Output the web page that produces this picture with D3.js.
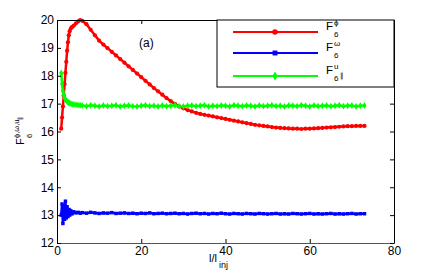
<!DOCTYPE html>
<html>
<head>
<meta charset="utf-8">
<script src="https://cdn.jsdelivr.net/npm/d3@7"></script>
<style>
  body { margin: 0; background: #fff; }
  svg { display: block; font-family: "Liberation Sans", Arial, sans-serif; }
</style>
</head>
<body>
<div id="chart"></div>
<script>
const WIDTH = 436;
const HEIGHT = 273;
const MARGIN = {left: 57, right: 42, top: 20, bottom: 30};

// l / l_inj sample positions
const lValues = [
  1, 1.2, 1.4, 1.6, 1.8, 2, 2.2, 2.4, 2.6, 2.8, 3, 3.3, 3.6, 4, 4.5, 5, 5.5,
  6, 7, 8, 9, 10, 11, 12, 13, 14, 15,
  16, 17, 18, 19, 20, 21, 22, 23, 24, 25,
  26, 27, 28, 29, 30, 31, 32, 33, 34, 35,
  36, 37, 38, 39, 40, 41, 42, 43, 44, 45,
  46, 47, 48, 49, 50, 51, 52, 53, 54, 55,
  56, 57, 58, 59, 60, 61, 62, 63, 64, 65,
  66, 67, 68, 69, 70, 71, 72, 73
];

const fPhi = [
  16.1, 16.5, 16.9, 17.3, 17.7, 18.1, 18.5, 18.9, 19.2, 19.45, 19.6, 19.7, 19.75, 19.8, 19.88, 19.95, 20.0,
  19.97, 19.85, 19.65, 19.45, 19.26, 19.12, 18.99, 18.86, 18.73, 18.6,
  18.47, 18.34, 18.21, 18.08, 17.95, 17.82, 17.69, 17.56, 17.44, 17.32,
  17.2, 17.09, 16.99, 16.9, 16.83, 16.77, 16.72, 16.67, 16.63, 16.6,
  16.57, 16.54, 16.51, 16.48, 16.45, 16.42, 16.39, 16.36, 16.33, 16.3,
  16.27, 16.24, 16.22, 16.2, 16.18, 16.16, 16.14, 16.13, 16.12, 16.11,
  16.1, 16.1, 16.09, 16.1, 16.1, 16.11, 16.12, 16.13, 16.14, 16.15,
  16.16, 16.17, 16.18, 16.19, 16.19, 16.2, 16.2, 16.2
];

const fOmega = [
  13.0, 13.4, 12.7, 13.35, 12.85, 13.5, 12.9, 13.3, 12.95, 13.2, 13.0, 13.15, 13.05, 13.12, 13.08, 13.1, 13.07,
  13.09, 13.07, 13.1, 13.08, 13.06, 13.08, 13.07, 13.09, 13.06, 13.07,
  13.08, 13.06, 13.07, 13.05, 13.07, 13.06, 13.08, 13.05, 13.06, 13.07,
  13.05, 13.06, 13.07, 13.05, 13.06, 13.04, 13.06, 13.07, 13.05, 13.06,
  13.04, 13.06, 13.05, 13.07, 13.05, 13.04, 13.06, 13.05, 13.04, 13.06,
  13.05, 13.04, 13.06, 13.05, 13.04, 13.05, 13.06, 13.04, 13.05, 13.04,
  13.06, 13.05, 13.04, 13.05, 13.06, 13.04, 13.05, 13.04, 13.05, 13.06,
  13.04, 13.05, 13.04, 13.05, 13.06, 13.04, 13.05, 13.05
];

const fUpar = [
  18.1, 17.7, 17.45, 17.3, 17.22, 17.15, 17.1, 17.08, 17.05, 17.03, 17.02, 17.0, 16.98, 16.97, 16.96, 16.95, 16.94,
  16.93, 16.91, 16.94, 16.92, 16.9, 16.93, 16.91, 16.92, 16.94, 16.9,
  16.92, 16.93, 16.91, 16.9, 16.92, 16.94, 16.91, 16.92, 16.9, 16.93,
  16.91, 16.92, 16.94, 16.91, 16.9, 16.92, 16.93, 16.91, 16.92, 16.94,
  16.9, 16.92, 16.91, 16.93, 16.92, 16.9, 16.94, 16.92, 16.91, 16.93,
  16.92, 16.9, 16.93, 16.91, 16.92, 16.94, 16.91, 16.92, 16.9, 16.93,
  16.92, 16.91, 16.94, 16.92, 16.9, 16.93, 16.91, 16.92, 16.93, 16.91,
  16.92, 16.94, 16.91, 16.92, 16.93, 16.9, 16.92, 16.93
];

const xTicks = [0, 20, 40, 60, 80];
const yTicks = [12, 13, 14, 15, 16, 17, 18, 19, 20];

const SERIES = [
  {name: 'phi', sup: 'ϕ', values: fPhi, color: '#ff0000', marker: d3.symbolCircle, size: 14},
  {name: 'omega', sup: 'ω', values: fOmega, color: '#0000ff', marker: d3.symbolSquare, size: 12},
  {name: 'upar', sup: 'u', values: fUpar, color: '#00ff00', marker: d3.symbolDiamond, size: 14},
];

const svg = d3.select('#chart').append('svg')
  .attr('width', WIDTH)
  .attr('height', HEIGHT);

const x0 = MARGIN.left, x1 = WIDTH - MARGIN.right;
const y0 = MARGIN.top, y1 = HEIGHT - MARGIN.bottom;

const x = d3.scaleLinear().domain([0, 80]).range([x0, x1]);
const y = d3.scaleLinear().domain([12, 20]).range([y1, y0]);

const plot = svg.append('g');
plot.append('clipPath').attr('id', 'clip')
  .append('rect').attr('x', x0).attr('y', y0 - 3).attr('width', x1 - x0).attr('height', y1 - y0 + 6);

const line = d3.line()
  .x((d, i) => x(lValues[i]))
  .y(d => y(d));

const marks = plot.append('g').attr('clip-path', 'url(#clip)');
SERIES.forEach(s => {
  marks.append('path')
    .attr('d', line(s.values))
    .attr('fill', 'none')
    .attr('stroke', s.color)
    .attr('stroke-width', 2.5);
  marks.append('g').selectAll('path')
    .data(s.values)
    .enter()
    .append('path')
    .attr('d', d3.symbol().type(s.marker).size(s.size))
    .attr('transform', (d, i) => `translate(${x(lValues[i])},${y(d)})`)
    .attr('fill', s.color);
});

// axes, MATLAB-style box with inward ticks
function styleAxis(g) {
  g.selectAll('.domain').attr('stroke', '#000');
  g.selectAll('.tick line').attr('stroke', '#000');
  g.selectAll('.tick text').attr('fill', '#000').style('font-size', '12px')
    .style('font-family', '"Liberation Sans", Arial, sans-serif');
}

svg.append('g')
  .attr('transform', `translate(0,${y1})`)
  .call(d3.axisBottom(x).tickValues(xTicks).tickSize(-4).tickSizeOuter(0).tickPadding(3))
  .call(styleAxis)
  .call(g => g.selectAll('.domain').attr('stroke', '#555'));

svg.append('g')
  .attr('transform', `translate(0,${y0})`)
  .call(d3.axisTop(x).tickValues(xTicks).tickSize(-4).tickSizeOuter(0).tickFormat(''))
  .call(styleAxis);

svg.append('g')
  .attr('transform', `translate(${x0},0)`)
  .call(d3.axisLeft(y).tickValues(yTicks).tickSize(-4).tickSizeOuter(0).tickPadding(3))
  .call(styleAxis);

svg.append('g')
  .attr('transform', `translate(${x1},0)`)
  .call(d3.axisRight(y).tickValues(yTicks).tickSize(-4).tickSizeOuter(0).tickFormat(''))
  .call(styleAxis);

// panel tag
svg.append('text')
  .attr('x', 139).attr('y', 47)
  .style('font-size', '12px')
  .text('(a)');

// x label
const xl = svg.append('g');
xl.append('text').attr('x', 209).attr('y', 262).style('font-size', '11px').text('l/l');
xl.append('text').attr('x', 219).attr('y', 268).style('font-size', '9px').text('inj');

// y label
const yl = svg.append('g').attr('transform', 'translate(24,132) rotate(-90)');
yl.append('text').attr('x', -13).attr('y', 0).style('font-size', '11px').text('F');
yl.append('text').attr('x', -6).attr('y', -5).style('font-size', '7.5px').text('ϕ,ω,u');
yl.append('text').attr('x', 12.5).attr('y', -2).style('font-size', '6px').text('∥');
yl.append('text').attr('x', -6).attr('y', 8).style('font-size', '7.5px').text('6');

// legend
const LEGEND = {x: 217, y: y0, w: x1 - 217, h: 67, rows: [32, 53, 76]};
const leg = svg.append('g');
leg.append('rect')
  .attr('x', LEGEND.x).attr('y', LEGEND.y)
  .attr('width', LEGEND.w).attr('height', LEGEND.h)
  .attr('fill', '#fff').attr('stroke', '#000');

SERIES.forEach((s, i) => {
  const ly = LEGEND.rows[i];
  leg.append('line')
    .attr('x1', 233).attr('x2', 318).attr('y1', ly).attr('y2', ly)
    .attr('stroke', s.color).attr('stroke-width', 2);
  leg.append('path')
    .attr('d', d3.symbol().type(s.marker).size(24))
    .attr('transform', `translate(275,${ly})`)
    .attr('fill', s.color);
  leg.append('text').attr('x', 326).attr('y', ly - 2).style('font-size', '11.5px').text('F');
  leg.append('text').attr('x', 334).attr('y', ly - 7).style('font-size', '8px').text(s.sup);
  leg.append('text').attr('x', 334).attr('y', ly + 5).style('font-size', '8px').text('6');
  if (s.name === 'upar') {
    leg.append('text').attr('x', 339.5).attr('y', ly + 1.5).style('font-size', '7px').text('∥');
  }
});
</script>
</body>
</html>
